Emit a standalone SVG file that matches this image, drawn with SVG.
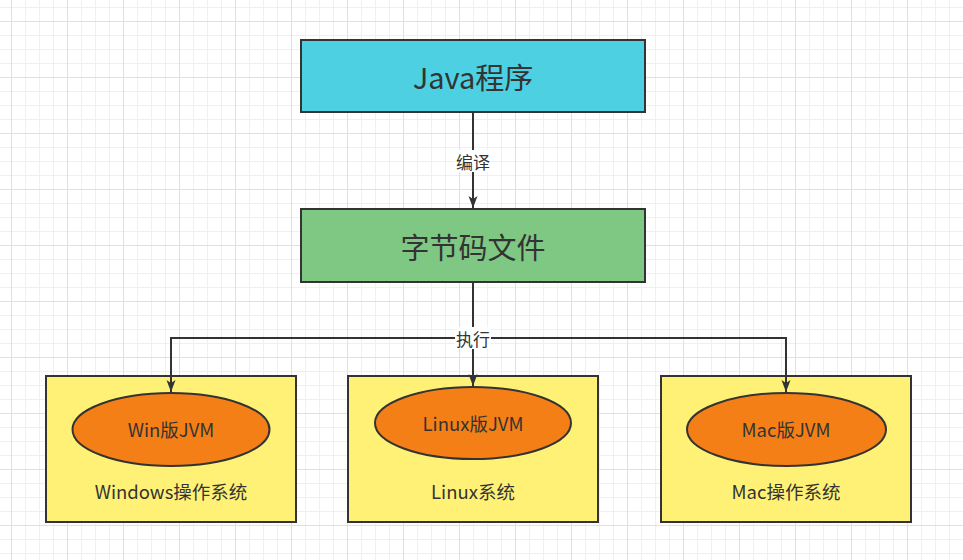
<svg xmlns="http://www.w3.org/2000/svg" width="963" height="560" viewBox="0 0 963 560">
<style>
text{font-family:"Noto Sans CJK SC","Noto Sans",sans-serif;fill:#333333;text-anchor:middle;dominant-baseline:central}
.box{stroke:#333333;stroke-width:2}
.big{font-size:29px}
.mid{font-size:18.5px}
.lbl{font-size:17px}
.edge{fill:none;stroke:#333333;stroke-width:2}
</style>
<defs>
<pattern id="grid" x="11" y="21" width="56" height="56" patternUnits="userSpaceOnUse">
<path d="M14.5 0V56M28.5 0V56M42.5 0V56M0 14.5H56M0 28.5H56M0 42.5H56" stroke="#f0f0f0" stroke-width="1" fill="none"/>
<path d="M0.5 0V56M0 0.5H56" stroke="#e0e0e0" stroke-width="1" fill="none"/>
</pattern>
<marker id="arr" viewBox="0 0 12 10" refX="12" refY="5" markerWidth="12" markerHeight="10" markerUnits="userSpaceOnUse" orient="auto">
<path d="M0 0.5L12 5L0 9.5L3 5Z" fill="#333333"/>
</marker>
</defs>
<rect width="963" height="560" fill="#ffffff"/>
<rect width="963" height="560" fill="url(#grid)"/>
<g id="java">
<rect class="box" x="301" y="40" width="344" height="72" fill="#4dd0e1"/>
<text class="big" x="473" y="76">Java程序</text>
</g>
<g id="bytecode">
<rect class="box" x="301" y="209" width="344" height="73" fill="#7ec883"/>
<text class="big" x="473" y="246">字节码文件</text>
</g>
<g id="windows">
<rect class="box" x="46" y="376" width="250" height="146" fill="#fff176"/>
<text class="mid" x="171" y="491">Windows操作系统</text>
</g>
<g id="winjvm">
<ellipse class="box" cx="171" cy="429.5" rx="98.5" ry="36.5" fill="#f57f17"/>
<text class="mid" x="171" y="429">Win版JVM</text>
</g>
<g id="linux">
<rect class="box" x="348" y="376" width="250" height="146" fill="#fff176"/>
<text class="mid" x="473" y="491">Linux系统</text>
</g>
<g id="linuxjvm">
<ellipse class="box" cx="473" cy="423" rx="98" ry="36" fill="#f57f17"/>
<text class="mid" x="473" y="423">Linux版JVM</text>
</g>
<g id="mac">
<rect class="box" x="661" y="376" width="250" height="146" fill="#fff176"/>
<text class="mid" x="786" y="491">Mac操作系统</text>
</g>
<g id="macjvm">
<ellipse class="box" cx="786.5" cy="429.5" rx="99.5" ry="36.5" fill="#f57f17"/>
<text class="mid" x="786" y="429">Mac版JVM</text>
</g>
<g id="connectors">
<path class="edge" d="M473 113V208" marker-end="url(#arr)"/>
<path class="edge" d="M473 283V338H171V392" marker-end="url(#arr)"/>
<path class="edge" d="M473 338V386" marker-end="url(#arr)"/>
<path class="edge" d="M473 338H786V392" marker-end="url(#arr)"/>
<rect x="455" y="150" width="36" height="22" fill="#ffffff"/>
<text class="lbl" x="473" y="161">编译</text>
<rect x="455" y="327" width="36" height="22" fill="#ffffff"/>
<text class="lbl" x="473" y="338">执行</text>
</g>
</svg>
